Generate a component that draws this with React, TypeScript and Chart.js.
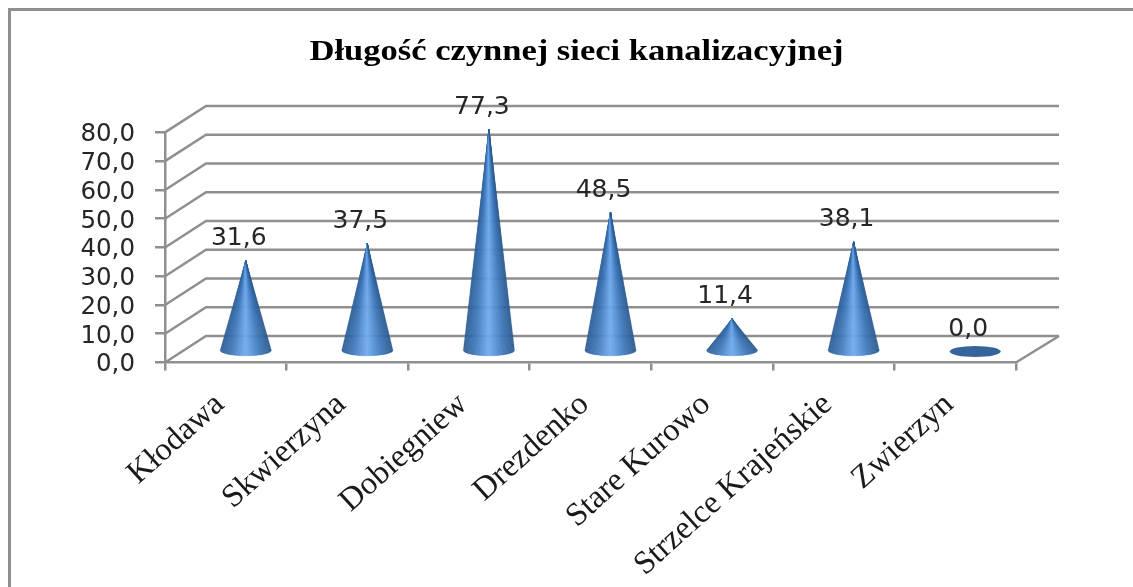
import React, { useEffect, useRef } from "react";
import { Chart, registerables } from "chart.js";

Chart.register(...registerables);

const categories = ["Kłodawa", "Skwierzyna", "Dobiegniew", "Drezdenko", "Stare Kurowo", "Strzelce Krajeńskie", "Zwierzyn"];
const values = [31.6, 37.5, 77.3, 48.5, 11.4, 38.1, 0.0];
const titleText = "Długość czynnej sieci kanalizacyjnej";

const GRAY = "#8f8f8f";
const WALL_DX = 41;
const WALL_DY = -26.5;
const CONE_DX = 20;
const CONE_DY = -11;
const CONE_RX = 25.5;
const CONE_RY = 5.5;
const TITLE_CX = 576.5;
const TITLE_STRETCH = 1.19;
const TICK_FONT = "'DejaVu Sans'";
const SHADE_STOPS: [number, number[]][] = [
  [0, [45, 93, 149]],
  [0.22, [62, 119, 185]],
  [0.5, [114, 171, 238]],
  [0.78, [63, 121, 187]],
  [1, [43, 90, 144]],
];
const fmt = (v: number) => v.toFixed(1).replace(".", ",");

const shade = (t: number) => {
  for (let i = 1; i < SHADE_STOPS.length; i++) {
    const [t1, c1] = SHADE_STOPS[i];
    const [t0, c0] = SHADE_STOPS[i - 1];
    if (t <= t1) {
      const k = (t - t0) / (t1 - t0);
      const c = c0.map((v, j) => Math.round(v + (c1[j] - v) * k));
      return `rgb(${c[0]},${c[1]},${c[2]})`;
    }
  }
  return "rgb(43,90,144)";
};

const shiftDraw = (scale: any, method: string, dx: number, dy: number) => {
  if (scale["__" + method]) return;
  scale["__" + method] = true;
  const original = scale[method].bind(scale);
  scale[method] = (...args: any[]) => {
    const ctx = scale.ctx;
    ctx.save();
    ctx.translate(dx, dy);
    original(...args);
    ctx.restore();
  };
};

const scenePlugin = {
  id: "scene",
  afterLayout(chart: any) {
    const block = chart.titleBlock;
    if (block && !block.__wrapped) {
      block.__wrapped = true;
      const original = block.draw.bind(block);
      block.draw = (...args: any[]) => {
        const ctx = chart.ctx;
        ctx.save();
        ctx.translate(TITLE_CX, 0);
        ctx.scale(TITLE_STRETCH, 1);
        ctx.translate(-TITLE_CX, 0);
        original(...args);
        ctx.restore();
      };
    }
    if (block) {
      block.left = 20;
      block.right = 1133;
    }
    shiftDraw(chart.scales.y, "drawLabels", 0, 2.5);
    shiftDraw(chart.scales.x, "drawLabels", -6, 0);
  },
  beforeDraw(chart: any) {
    const ctx = chart.ctx;
    ctx.save();
    ctx.fillStyle = "#ffffff";
    ctx.fillRect(0, 0, chart.width, chart.height);
    ctx.strokeStyle = GRAY;
    ctx.lineWidth = 3;
    ctx.beginPath();
    ctx.moveTo(9.5, 587);
    ctx.lineTo(9.5, 9.5);
    ctx.lineTo(1133, 9.5);
    ctx.stroke();
    ctx.restore();
  },
  beforeDatasetsDraw(chart: any) {
    const ctx = chart.ctx;
    const y = chart.scales.y;
    const left = chart.chartArea.left;
    const right = chart.chartArea.right;
    ctx.save();
    ctx.strokeStyle = GRAY;
    ctx.lineWidth = 2.5;
    y.ticks.forEach((t: any) => {
      const py = y.getPixelForValue(t.value);
      ctx.beginPath();
      ctx.moveTo(left, py);
      ctx.lineTo(left + WALL_DX, py + WALL_DY);
      ctx.lineTo(right + WALL_DX + 2, py + WALL_DY);
      ctx.stroke();
    });
    const p0 = y.getPixelForValue(0);
    ctx.beginPath();
    ctx.moveTo(right + WALL_DX + 2, p0 + WALL_DY);
    ctx.lineTo(right, p0);
    ctx.stroke();
    ctx.restore();
  },
  afterDatasetsDraw(chart: any) {
    const ctx = chart.ctx;
    const bars = chart.getDatasetMeta(0).data;
    bars.forEach((bar: any, i: number) => {
      const cx = bar.x + CONE_DX;
      const baseY = bar.base + CONE_DY;
      const tipY = bar.y + CONE_DY;
      ctx.save();
      if (values[i] <= 0) {
        ctx.fillStyle = "#36659b";
        ctx.beginPath();
        ctx.ellipse(cx, baseY, CONE_RX, CONE_RY, 0, 0, Math.PI * 2);
        ctx.fill();
      } else {
        const N = 60;
        const rimY = (x: number) => baseY + CONE_RY * Math.sqrt(Math.max(0, 1 - ((x - cx) / CONE_RX) ** 2));
        for (let k = 0; k < N; k++) {
          const x0 = cx - CONE_RX + (2 * CONE_RX * k) / N;
          const x1 = cx - CONE_RX + (2 * CONE_RX * (k + 1)) / N;
          const color = shade((k + 0.5) / N);
          ctx.fillStyle = color;
          ctx.strokeStyle = color;
          ctx.lineWidth = 0.4;
          ctx.beginPath();
          ctx.moveTo(cx, tipY);
          ctx.lineTo(x0, rimY(x0));
          ctx.lineTo(x1, rimY(x1));
          ctx.closePath();
          ctx.fill();
          ctx.stroke();
        }
      }
      ctx.restore();
      ctx.save();
      ctx.fillStyle = "#262626";
      ctx.font = `25px ${TICK_FONT}`;
      ctx.textAlign = "center";
      ctx.textBaseline = "middle";
      ctx.fillText(fmt(values[i]), cx - 7, tipY - 22);
      ctx.restore();
    });
  },
};

export default function App() {
  const ref = useRef<HTMLCanvasElement | null>(null);
  useEffect(() => {
    document.body.style.margin = "0";
    const chart = new Chart(ref.current as HTMLCanvasElement, {
      type: "bar",
      data: {
        labels: categories,
        datasets: [{ data: values, backgroundColor: "rgba(0,0,0,0)", borderWidth: 0 }],
      },
      options: {
        responsive: false,
        animation: false,
        layout: { padding: { left: 0, right: 117, top: 0, bottom: 0 } },
        plugins: {
          legend: { display: false },
          tooltip: { enabled: false },
          title: {
            display: true,
            text: titleText,
            color: "#000000",
            font: { family: "'Liberation Serif'", size: 29, weight: "bold" },
            padding: { top: 35.6, bottom: 62 },
          },
        },
        scales: {
          x: {
            afterFit: (s: any) => { s.height = 224.5; },
            border: { color: GRAY, width: 2.5 },
            grid: { drawOnChartArea: false, drawTicks: true, tickLength: 8, color: GRAY, lineWidth: 2.5 },
            ticks: {
              minRotation: 42,
              maxRotation: 42,
              padding: 15,
              color: "#1a1a1a",
              font: { family: "'Liberation Serif'", size: 32.5 },
            },
          },
          y: {
            min: 0,
            max: 80,
            afterFit: (s: any) => { s.width = 165; },
            border: { color: GRAY, width: 2.5 },
            grid: { drawOnChartArea: false, drawTicks: true, tickLength: 10, color: GRAY, lineWidth: 2.5 },
            ticks: {
              stepSize: 10,
              autoSkip: false,
              padding: 20,
              color: "#262626",
              font: { family: TICK_FONT, size: 24.5 },
              callback: (v: any) => fmt(Number(v)),
            },
          },
        },
      } as any,
      plugins: [scenePlugin],
    });
    return () => chart.destroy();
  }, []);
  return <canvas ref={ref} width={1133} height={587} style={{ display: "block" }} />;
}
